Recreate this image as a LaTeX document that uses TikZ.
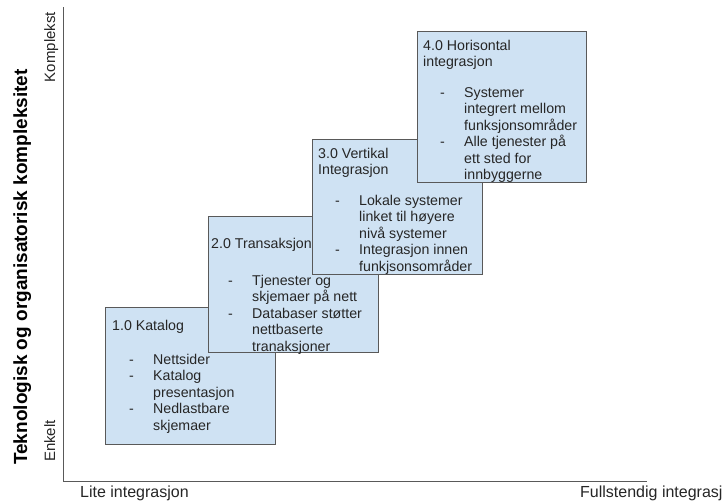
\documentclass[tikz,border=0pt]{standalone}
\usepackage{fontspec}
\setmainfont{Liberation Sans}
\definecolor{boxfill}{HTML}{CFE2F3}
\definecolor{boxline}{HTML}{595959}
\definecolor{txt}{HTML}{262626}
\newcommand\bitem[1]{\makebox[41pt][l]{\hspace{17pt}-}#1}
\newcommand\bcont[1]{\hspace*{41pt}#1}
\newcommand\lines[1]{\begin{tabular}[t]{@{}l@{}}#1\end{tabular}}
\tikzset{
  stagebox/.style={draw=boxline, fill=boxfill, line width=0.8pt, rectangle, inner sep=0pt, anchor=north west},
  boxtext/.style={anchor=base west, inner sep=0pt, text=txt, font=\fontsize{14.2}{16.5}\selectfont},
  axis/.style={draw=boxline, line width=0.8pt},
  axlabel/.style={anchor=base west, inner sep=0pt, text=txt, font=\fontsize{16}{18}\selectfont},
  sidelabel/.style={rotate=90, anchor=base, inner sep=0pt, text=txt, font=\fontsize{15}{17}\selectfont}
}
\begin{document}
\begin{tikzpicture}[x=1pt,y=-1pt]
\useasboundingbox (0,0) rectangle (727,501);
\fill[white] (0,0) rectangle (727,501);
% axes
\coordinate (ytop) at (63,7);
\coordinate (o) at (63,481);
\coordinate (xend) at (647,481);
\draw[axis] (ytop) -- (o) -- (xend);
\node[axlabel] (xl) at (80,497) {Lite integrasjon};
\node[axlabel] (xr) at (580,497) {Fullstendig integrasj};
\node[rotate=90, anchor=base, inner sep=0pt, text=black, font=\bfseries\fontsize{19}{22}\selectfont] (yl) at (27,267) {Teknologisk og organisatorisk kompleksitet};
\node[sidelabel] (yk) at (55,47) {Komplekst};
\node[sidelabel] (ye) at (55,441) {Enkelt};
% box 1
\node[stagebox, minimum width=170pt, minimum height=137pt] (b1) at (105,307) {};
\node[boxtext] (h1) at (112,330) {\lines{1.0 Katalog}};
\node[boxtext] (l1) at (112,364) {\lines{\bitem{Nettsider}\\ \bitem{Katalog}\\ \bcont{presentasjon}\\ \bitem{Nedlastbare}\\ \bcont{skjemaer}}};
% box 2
\node[stagebox, minimum width=170pt, minimum height=136pt] (b2) at (208,216) {};
\node[boxtext] (h2) at (211,248) {\lines{2.0 Transaksjon}};
\node[boxtext] (l2) at (211,285) {\lines{\bitem{Tjenester og}\\ \bcont{skjemaer på nett}\\ \bitem{Databaser støtter}\\ \bcont{nettbaserte}\\ \bcont{tranaksjoner}}};
% box 3
\node[stagebox, minimum width=170pt, minimum height=135pt] (b3) at (312,139) {};
\node[boxtext] (h3) at (318,158) {\lines{3.0 Vertikal\\ Integrasjon}};
\node[boxtext] (l3) at (318,205) {\lines{\bitem{Lokale systemer}\\ \bcont{linket til høyere}\\ \bcont{nivå systemer}\\ \bitem{Integrasjon innen}\\ \bcont{funkjsonsområder}}};
% box 4
\node[stagebox, minimum width=169pt, minimum height=151pt] (b4) at (417,31) {};
\node[boxtext] (h4) at (423,50) {\lines{4.0 Horisontal\\ integrasjon}};
\node[boxtext] (l4) at (423,97) {\lines{\bitem{Systemer}\\ \bcont{integrert mellom}\\ \bcont{funksjonsområder}\\ \bitem{Alle tjenester på}\\ \bcont{ett sted for}\\ \bcont{innbyggerne}}};
\end{tikzpicture}
\end{document}
